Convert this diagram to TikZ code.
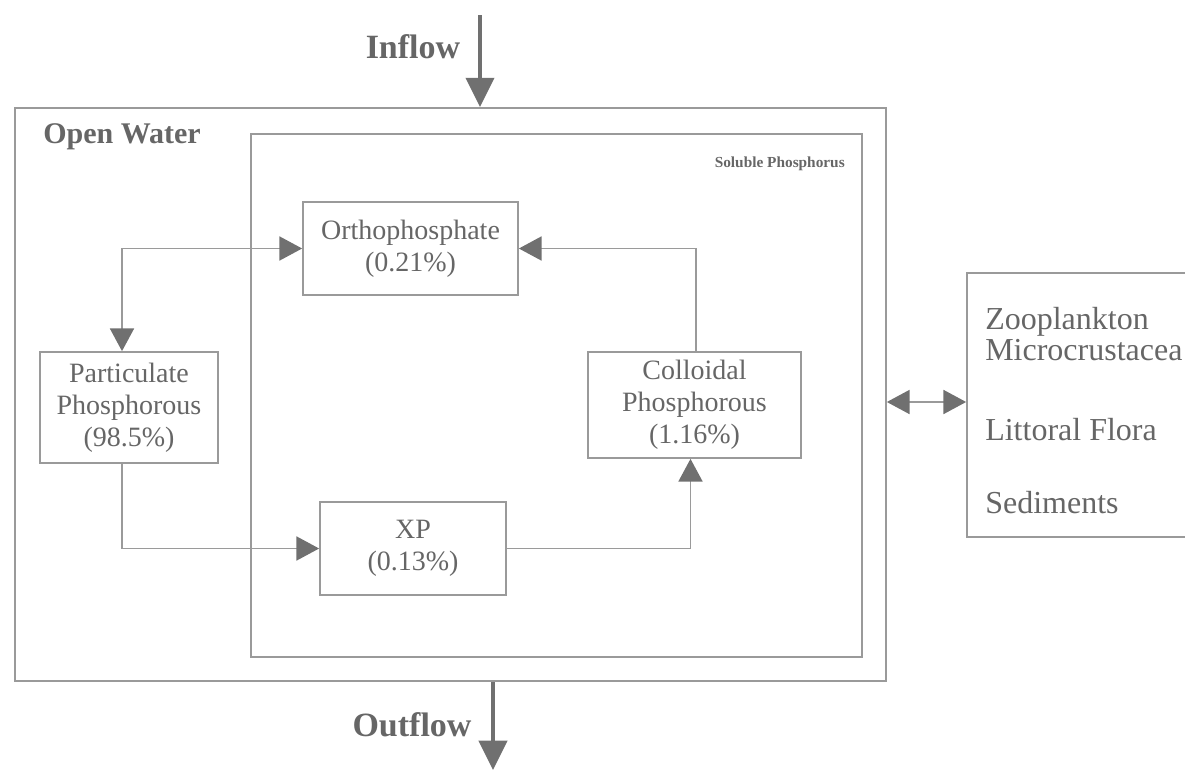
\documentclass[tikz,border=0pt]{standalone}
\usepackage{fontspec}
\setmainfont{Liberation Serif}
\usetikzlibrary{arrows.meta,calc}
\definecolor{txt}{HTML}{666666}
\definecolor{ln}{HTML}{9A9A9A}
\definecolor{ah}{HTML}{707070}
\begin{document}
\begin{tikzpicture}[x=0.75pt,y=-0.75pt,
  frame/.style={draw=ln, line width=1.3pt, inner sep=0pt},
  box/.style={draw=ln, line width=1.3pt, inner sep=0pt, align=center, text=txt,
              font=\fontsize{21}{24}\selectfont},
  link/.style={draw=ln, line width=1.2pt},
  tip/.style={-{Triangle[length=17pt,width=18pt,color=ah,fill=ah]}},
  tipboth/.style={{Triangle[length=17pt,width=18pt,color=ah,fill=ah]}-{Triangle[length=17pt,width=18pt,color=ah,fill=ah]}},
  bigarrow/.style={draw=ah, line width=3pt, -{Triangle[length=22pt,width=21pt,color=ah,fill=ah]}},
  biglbl/.style={text=txt, inner sep=0pt, font=\fontsize{25.5}{28}\selectfont\bfseries},
  sidetext/.style={text=txt, inner sep=0pt, anchor=west, font=\fontsize{24}{26}\selectfont}
]
\useasboundingbox (0,0) rectangle (1185,771);
\clip (0,0) rectangle (1185,771);

% containers
\node[frame, minimum width=653.25pt, minimum height=429.75pt] (outer) at (450.5,394.5) {};
\node[frame, minimum width=458.25pt, minimum height=392.25pt] (inner) at (556.5,395.5) {};
\node[frame, minimum width=174.75pt, minimum height=198pt] (biota) at (1083.5,405) {};

% labels
\node[biglbl] (inflowlbl) at (413,47) {Inflow};
\node[biglbl] (outflowlbl) at (412,725) {Outflow};
\node[text=txt, inner sep=0pt, anchor=west, font=\fontsize{22.5}{26}\selectfont\bfseries] (openlbl) at (43,137) {Open Water};
\node[text=txt, inner sep=0pt, anchor=east, font=\fontsize{11.5}{14}\selectfont\bfseries] (sollbl) at (845,164) {Soluble Phosphorus};

% boxes
\node[box, minimum width=161.25pt, minimum height=69.75pt] (ortho) at (410.5,248.5) {Orthophosphate\\(0.21\%)};
\node[box, minimum width=133.5pt, minimum height=83.25pt] (part) at (129,407.5) {Particulate\\Phosphorous\\(98.5\%)};
\node[box, minimum width=159.75pt, minimum height=79.5pt] (coll) at (694.5,405) {Colloidal\\Phosphorous\\(1.16\%)};
\node[box, minimum width=139.5pt, minimum height=69.75pt] (xp) at (413,548.5) {XP\\(0.13\%)};

% side texts
\node[sidetext] (zoo) at (985,322) {Zooplankton};
\node[sidetext] (micro) at (985,350) {Microcrustacea};
\node[sidetext] (flora) at (985,430) {Littoral Flora};
\node[sidetext] (sed) at (985,503) {Sediments};

% connectors
\draw[link, tipboth] ($(part.north)+(-7,0)$) |- (ortho.west);
\draw[link, tip] ($(part.south)+(-7,0)$) |- (xp.west);
\draw[link, tip] (xp.east) -| ($(coll.south)+(-4,0)$);
\draw[link, tip] ($(coll.north)+(1.5,0)$) |- (ortho.east);
\draw[link, tipboth] ($(outer.east)+(0,7.5)$) -- ($(biota.west)+(0,-3)$);

% inflow / outflow
\coordinate (inTop) at (480,15);
\coordinate (outEnd) at (493,770);
\draw[bigarrow] (inTop) -- (outer.north -| inTop);
\draw[bigarrow] (outer.south -| outEnd) -- (outEnd);
\end{tikzpicture}
\end{document}
